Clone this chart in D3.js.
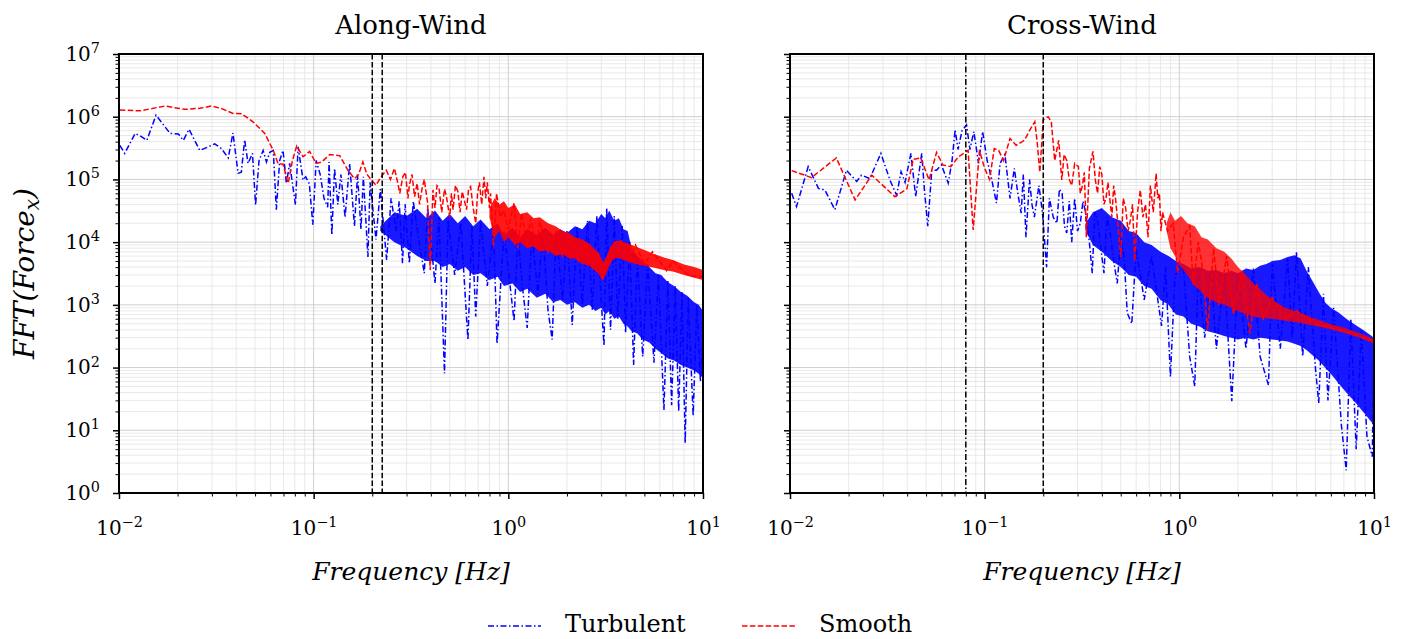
<!DOCTYPE html>
<html>
<head>
<meta charset="utf-8">
<script src="https://cdn.jsdelivr.net/npm/d3@7"></script>
<style>
body { margin: 0; background: #fff; }
text { font-family: "DejaVu Serif", serif; fill: #000; }
</style>
</head>
<body>
<svg id="chart" width="1404" height="639"></svg>
<script>
// values, [frequency Hz, amplitude]
var alongTurbulent = [
  [0.0101,3.5e5],[0.0107,2.6e5],[0.0121,5.4e5],[0.0128,5.0e5],[0.0139,4.2e5],[0.0155,1.06e6],[0.0183,5.4e5],
  [0.0202,5.3e5],[0.0214,4.2e5],[0.0229,6.3e5],[0.026,2.9e5],[0.0287,3.3e5],[0.031,3.7e5],[0.0336,3.1e5],
  [0.0364,2.2e5],[0.0385,5.5e5],[0.0409,1.25e5],[0.0425,1.3e5],[0.0442,4.3e5],[0.046,1.8e5],[0.0485,2.6e5],
  [0.0503,3.9e4],[0.0524,2.0e5],[0.055,2.9e5],[0.0572,1.9e5],[0.0595,2.7e5],[0.062,2.9e5],[0.0643,3.3e4],
  [0.0669,2.0e5],[0.0696,2.9e5],[0.0724,8.7e4],[0.0753,1.8e5],[0.0806,3.9e4],[0.0832,3.3e5],[0.0882,9.8e4],
  [0.091,1.1e5],[0.095,8.5e4],[0.099,1.9e4],[0.103,2.0e5],[0.108,1.2e5],[0.113,5e4],[0.118,3.6e4],[0.12,1.9e5],
  [0.124,1.3e4],[0.128,1.5e5],[0.133,4e4],[0.138,1.2e5],[0.145,2.5e4],[0.153,1.8e5],[0.162,1.8e4],[0.168,1.2e5],
  [0.175,1.6e4],[0.18,1.1e5],[0.19,5.8e3],[0.195,9e4],[0.209,1.1e4],[0.22,7e4],[0.237,5.2e3],[0.25,5e4],
  [0.265,1.5e4],[0.275,4.5e4],[0.286,4.6e3],[0.295,4e4],[0.31,4.6e3],[0.325,4.5e4],[0.345,1.2e4],[0.37,3.2e3],
  [0.385,3.5e4],[0.42,2.2e3],[0.44,2.5e4],[0.47,81],[0.49,2.2e4],[0.53,3e3],[0.57,2e4],[0.62,275],[0.65,1.8e4],
  [0.68,650],[0.72,2.2e4],[0.78,2e3],[0.84,1.5e4],[0.875,240],[0.95,1.5e4],[1.07,550],[1.12,1.3e4],[1.18,2e3],
  [1.25,430],[1.32,1.4e4],[1.42,1.5e3],[1.5,1.6e4],[1.6,800],[1.68,280],[1.76,1.4e4],[1.9,1.2e3],[2.0,1.5e4],
  [2.13,480],[2.25,1.8e4],[2.4,1.0e3],[2.55,2.2e4],[2.7,800],[2.85,2.6e4],[3.0,1.2e3],[3.1,220],[3.2,3.5e4],
  [3.35,400],[3.5,2.6e4],[3.65,600],[3.85,1.8e4],[4.0,360],[4.2,1.0e4],[4.4,110],[4.6,6e3],[4.9,150],[5.2,4.5e3],
  [5.6,120],[5.9,3e3],[6.3,21],[6.6,2.4e3],[6.9,25],[7.2,2e3],[7.5,20],[7.8,1.6e3],[8.1,6.2],[8.4,1.3e3],
  [8.9,17],[9.3,1.0e3],[9.7,60],[10,300]
];
// dense, solid-looking part of each spectrum, [Hz, low, high]
var alongTurbulentBand = [
  [0.22,1.5e4,1.8e4],[0.26,1.0e4,3.0e4],[0.3,8e3,2.6e4],[0.34,6e3,3.4e4],[0.38,5e3,2.4e4],[0.42,5e3,3.2e4],
  [0.46,4e3,2.2e4],[0.5,4.5e3,2.8e4],[0.55,3.5e3,2.0e4],[0.6,4e3,2.6e4],[0.66,3e3,1.8e4],[0.72,3.2e3,2.3e4],
  [0.8,2.5e3,1.6e4],[0.88,2.8e3,2.0e4],[0.95,2e3,1.3e4],[1.05,2.2e3,1.7e4],[1.15,1.6e3,1.2e4],[1.25,1.8e3,1.6e4],
  [1.4,1.3e3,1.3e4],[1.55,1.5e3,1.7e4],[1.7,1.1e3,1.3e4],[1.85,1.2e3,1.6e4],[2.0,1.0e3,1.4e4],[2.2,1.1e3,1.8e4],
  [2.4,900,1.6e4],[2.6,1.0e3,2.2e4],[2.8,800,2.0e4],[3.0,900,2.8e4],[3.15,700,2.4e4],[3.3,800,3.2e4],
  [3.5,600,2.2e4],[3.7,650,2.4e4],[3.9,500,1.6e4],[4.1,450,1.5e4],[4.3,380,8e3],[4.6,350,6e3],[4.9,280,5e3],
  [5.3,250,4e3],[5.7,200,3.2e3],[6.1,170,3e3],[6.6,140,2.3e3],[7.1,130,2.0e3],[7.7,110,1.6e3],[8.3,100,1.4e3],
  [9.0,90,1.1e3],[9.5,80,1.0e3],[10,70,800]
];
var alongSmooth = [
  [0.0101,1.28e6],[0.0128,1.24e6],[0.0172,1.48e6],[0.0218,1.31e6],[0.026,1.36e6],[0.0299,1.48e6],[0.0336,1.35e6],
  [0.0385,1.13e6],[0.0426,1.12e6],[0.0488,8.3e5],[0.0561,5.4e5],[0.062,2.9e5],[0.0656,1.8e5],[0.0696,1.75e5],
  [0.074,8.7e4],[0.0778,2.0e5],[0.0818,3.4e5],[0.0882,2.3e5],[0.0953,2.8e5],[0.103,1.8e5],[0.11,1.9e5],
  [0.121,2.5e5],[0.136,2.4e5],[0.15,1.4e5],[0.162,1.03e5],[0.17,1.2e5],[0.179,1.9e5],[0.188,1.2e5],[0.198,9.8e4],
  [0.209,8.1e4],[0.222,1.1e5],[0.236,1.4e5],[0.248,1.0e5],[0.26,1.5e5],[0.27,9e4],[0.277,6.0e4],[0.287,1.1e5],
  [0.296,1.3e5],[0.305,5e4],[0.31,8e4],[0.32,1.2e5],[0.33,5.3e4],[0.34,8.7e4],[0.35,4e4],[0.36,7e4],[0.37,1.0e5],
  [0.385,4.2e4],[0.397,3.6e3],[0.41,6.8e4],[0.42,3.5e4],[0.43,8e4],[0.44,7.5e4],[0.455,3e4],[0.47,7e4],
  [0.48,5.5e4],[0.5,2.5e4],[0.51,6e4],[0.52,3.3e4],[0.535,8e4],[0.55,6.5e4],[0.565,3e4],[0.58,6.4e4],[0.61,3.3e4],
  [0.625,7e4],[0.64,7.7e4],[0.66,3.5e4],[0.68,2.0e4],[0.695,6e4],[0.71,9e4],[0.73,4e4],[0.75,1.1e5],[0.765,5e4],
  [0.78,9e4],[0.8,3.5e4],[0.81,6e4],[0.84,8.5e3],[0.87,6e4],[0.91,2.5e4],[0.95,3.2e4],[1.0,1.6e4],[1.07,4.2e4],
  [1.12,8e3],[1.17,2.9e4],[1.25,9e3],[1.3,2.4e4],[1.4,8e3],[1.45,2.1e4],[1.6,7e3],[1.77,1.5e4],[1.9,6e3],
  [2.1,1.2e4],[2.3,5e3],[2.5,9.6e3],[2.7,4.5e3],[2.9,6.6e3],[3.05,2.6e3],[3.25,5.5e3],[3.5,1.0e4],[3.8,1.05e4],
  [4.2,5e3],[4.5,9e3],[5,4.5e3],[5.5,7e3],[6.5,3.5e3],[7,5e3],[8.5,2.9e3],[10,2.8e3]
];
var alongSmoothBand = [
  [0.8,2.5e4,3.5e4],[0.85,1.2e4,5e4],[0.9,1.5e4,4e4],[0.95,1.0e4,4.5e4],[1.0,1.2e4,3.5e4],[1.08,9e3,4e4],
  [1.15,1.0e4,2.8e4],[1.25,8e3,3e4],[1.35,8.5e3,2.4e4],[1.45,7e3,2.5e4],[1.6,7.5e3,2e4],[1.75,6e3,1.8e4],
  [1.9,6.5e3,1.5e4],[2.05,5.5e3,1.4e4],[2.2,5.5e3,1.2e4],[2.4,4.5e3,1.1e4],[2.6,4.2e3,9.5e3],[2.75,3.6e3,8e3],
  [2.9,3.2e3,6.8e3],[3.0,2.6e3,5.5e3],[3.08,2.5e3,4.8e3],[3.2,3.3e3,6e3],[3.35,4.6e3,8.5e3],[3.5,5.5e3,9.8e3],
  [3.7,5.6e3,1.05e4],[3.9,5.2e3,1.0e4],[4.2,4.8e3,9.3e3],[4.6,4.4e3,8.3e3],[5.0,4.2e3,7.5e3],[5.6,3.9e3,6.5e3],
  [6.3,3.6e3,5.7e3],[7,3.4e3,5.2e3],[8,3.0e3,4.4e3],[9,2.7e3,4.0e3],[10,2.5e3,3.6e3]
];
var crossTurbulent = [
  [0.0102,6.0e4],[0.0108,3.7e4],[0.0124,1.6e5],[0.014,7.2e4],[0.0151,6.8e4],[0.017,3.3e4],[0.0195,1.4e5],
  [0.022,9.3e4],[0.0233,1.17e5],[0.0257,1.03e5],[0.0293,2.6e5],[0.0326,9.8e4],[0.0353,5.6e4],[0.0372,1.33e5],
  [0.039,9e4],[0.0418,2.6e5],[0.0442,5.3e4],[0.0475,2.6e5],[0.049,7e4],[0.051,1.8e4],[0.0535,1.4e5],
  [0.0566,1.4e5],[0.06,1.7e5],[0.065,8.7e4],[0.068,2.0e5],[0.0705,6.2e5],[0.073,3e5],[0.0765,6e5],
  [0.0807,7.4e5],[0.084,3e5],[0.088,5.8e5],[0.093,1.8e5],[0.0976,5.8e5],[0.103,2.0e5],[0.108,1.1e5],
  [0.115,4.2e4],[0.12,1.8e5],[0.127,2.5e5],[0.135,5e4],[0.142,1.5e5],[0.148,6e4],[0.154,2.9e4],[0.158,1.2e5],
  [0.163,1.2e4],[0.17,1.0e5],[0.175,4e4],[0.18,2.5e4],[0.19,8e4],[0.198,3e4],[0.208,4e3],[0.215,5e4],
  [0.225,2.5e4],[0.235,2e4],[0.242,7e4],[0.25,6e4],[0.257,1.8e4],[0.264,1.4e4],[0.272,4.5e4],[0.28,1e4],
  [0.29,5e4],[0.3,1.5e4],[0.31,2e4],[0.32,4.5e4],[0.33,3e4],[0.345,1e4],[0.357,3.2e3],[0.368,3e4],[0.38,2.2e4],
  [0.395,8e3],[0.41,3.2e3],[0.425,2.5e4],[0.44,1.5e4],[0.46,5e3],[0.48,2.2e3],[0.5,1.2e4],[0.52,6e3],
  [0.54,740],[0.57,500],[0.6,8e3],[0.66,1.2e3],[0.72,6e3],[0.81,460],[0.85,4e3],[0.9,71],[0.95,3e3],[1.05,4e3],
  [1.13,150],[1.2,50],[1.25,3.5e3],[1.35,300],[1.45,3.5e3],[1.55,200],[1.7,3.3e3],[1.86,29],[2.0,3.2e3],
  [2.2,200],[2.4,3.8e3],[2.6,150],[2.87,52],[3.0,4.5e3],[3.3,200],[3.6,5.5e3],[3.8,300],[4.0,7e3],[4.3,150],
  [4.6,4e3],[5.0,100],[5.2,27],[5.5,1.5e3],[5.8,30],[6.2,900],[6.8,12],[7.2,2.3],[7.6,600],[8.1,5],[8.6,400],
  [9.2,8],[9.8,3.8],[10,280]
];
var crossTurbulentBand = [
  [0.33,1.5e4,2.0e4],[0.36,9e3,3.0e4],[0.4,7e3,3.5e4],[0.45,5e3,2.5e4],[0.5,4e3,2.2e4],[0.55,3e3,1.5e4],
  [0.6,2.8e3,1.4e4],[0.66,2e3,1e4],[0.72,1.8e3,9e3],[0.8,1.2e3,7e3],[0.88,1.0e3,6e3],[0.96,700,5e3],
  [1.05,650,4.5e3],[1.15,500,3.8e3],[1.27,450,4e3],[1.4,380,3.5e3],[1.55,350,3.6e3],[1.7,320,3.2e3],
  [1.85,300,3.5e3],[2.0,280,3.2e3],[2.2,300,3.8e3],[2.4,280,3.6e3],[2.6,300,4.2e3],[2.8,290,4.5e3],
  [3.0,280,5e3],[3.3,270,5.2e3],[3.6,260,5.8e3],[3.9,240,6.2e3],[4.2,220,5.5e3],[4.5,190,3.5e3],[4.8,160,2.5e3],
  [5.2,130,1.6e3],[5.6,100,1.1e3],[6.0,80,900],[6.6,55,750],[7.2,40,600],[8,28,480],[9,18,380],[10,12,300]
];
var crossSmooth = [
  [0.0102,1.38e5],[0.0129,1.07e5],[0.0173,2.2e5],[0.0216,4.7e4],[0.0263,1.17e5],[0.0346,5.3e4],[0.0398,7.0e4],
  [0.043,2.1e5],[0.047,2.2e5],[0.0518,9.8e4],[0.0566,2.7e5],[0.061,1.7e5],[0.067,1.6e5],[0.0733,2.3e5],
  [0.0822,2.9e5],[0.0873,1.56e4],[0.094,2.9e5],[0.1,1.5e5],[0.106,1.0e5],[0.112,3.1e5],[0.118,2.9e5],
  [0.125,2.0e5],[0.135,4.5e5],[0.145,3.5e5],[0.16,4.2e5],[0.171,6.2e5],[0.181,8.3e5],[0.186,4e5],[0.192,1.3e5],
  [0.2,8.9e5],[0.212,1.0e6],[0.22,8.3e5],[0.229,2.0e5],[0.24,4.2e5],[0.249,9.8e4],[0.256,2.5e5],[0.264,2.0e5],
  [0.272,1.0e5],[0.28,8e4],[0.29,1.8e5],[0.303,1.6e5],[0.31,6e4],[0.318,8e4],[0.325,1.3e5],[0.333,1.2e4],
  [0.345,1.5e5],[0.36,2.8e5],[0.37,1.0e5],[0.38,6e4],[0.39,1.6e5],[0.4,1.2e5],[0.41,4e4],[0.42,5e4],[0.43,9e4],
  [0.44,4.7e4],[0.45,2.5e4],[0.46,8e4],[0.47,5e4],[0.48,2.5e4],[0.5,5.8e3],[0.515,5e4],[0.53,3.5e4],[0.545,1.5e4],
  [0.56,2.2e4],[0.575,4e4],[0.59,5e3],[0.61,3e4],[0.63,6.8e4],[0.65,2.5e4],[0.67,4e4],[0.69,1.2e4],[0.71,8e4],
  [0.735,3e4],[0.76,1.25e5],[0.775,5e4],[0.79,6e4],[0.805,1.5e4],[0.82,3e4],[0.87,1.5e4],[0.93,2e4],[0.98,3.2e3],
  [1.05,1.2e4],[1.13,1.8e4],[1.18,2e3],[1.25,1e4],[1.3,5e3],[1.4,400],[1.5,8e3],[1.6,1e3],[1.75,6e3],[1.9,700],
  [2.1,3.5e3],[2.3,350],[2.5,2.2e3],[2.7,600],[3.0,1.3e3],[3.5,600],[4,800],[5,500],[7,380],[10,260]
];
var crossSmoothBand = [
  [0.86,1.5e4,2.0e4],[0.9,8e3,3e4],[0.95,6e3,2.2e4],[1.02,4e3,2.6e4],[1.1,3e3,2e4],[1.2,2e3,1.8e4],
  [1.3,1.6e3,1.2e4],[1.4,1.3e3,1.1e4],[1.55,1.1e3,8e3],[1.7,1.0e3,7e3],[1.85,900,5.5e3],[2.0,800,4e3],
  [2.2,700,3e3],[2.4,650,2.2e3],[2.7,620,1.6e3],[3.0,600,1.2e3],[3.5,560,900],[4.0,530,780],[5.0,460,600],
  [6.0,410,490],[7.0,360,430],[8.5,300,350],[10,240,285]
];
var alongMarkers = [0.2, 0.225];
var crossMarkers = [0.08, 0.2];
var panelTitles = ["Along-Wind", "Cross-Wind"];
var seriesNames = ["Turbulent", "Smooth"];
var xMajor = [0.01, 0.1, 1, 10];
var yMajor = [1, 10, 100, 1e3, 1e4, 1e5, 1e6, 1e7];

var top0 = 54, plotW = 584, plotH = 439;
var blue = "#0000ff", red = "#ff0000";
var dashDot = "6,2.5,1.5,2.5", dashed = "5.5,2.4";

var svg = d3.select("#chart");

var x = d3.scaleLog().domain([0.01, 10]).range([0, plotW]);
var y = d3.scaleLog().domain([1, 1e7]).range([plotH, 0]);

// minor ticks 2..9 inside each decade
var xMinor = [], yMinor = [];
xMajor.slice(0, -1).forEach(function(d) { for (var k = 2; k < 10; k++) xMinor.push(d * k); });
yMajor.slice(0, -1).forEach(function(d) { for (var k = 2; k < 10; k++) yMinor.push(d * k); });

function powerLabels(sel) {
  sel.selectAll(".tick text").each(function(d) {
    var t = d3.select(this), e = Math.round(Math.log10(d));
    t.text(null);
    t.append("tspan").text("10");
    t.append("tspan").attr("dy", "-0.55em").attr("font-size", "0.72em")
      .text(e < 0 ? "\u2212" + (-e) : e);
  });
}

var line = d3.line().x(function(d) { return x(d[0]); }).y(function(d) { return y(d[1]); });
var area = d3.area()
  .x(function(d) { return x(d[0]); })
  .y0(function(d) { return y(d[1]); })
  .y1(function(d) { return y(d[2]); });

function drawPanel(i, left, turb, turbBand, smooth, smoothBand, markers, markerDash, redAlpha) {
  var g = svg.append("g").attr("transform", "translate(" + left + "," + top0 + ")");

  g.append("clipPath").attr("id", "clip" + i)
    .append("rect").attr("width", plotW).attr("height", plotH);

  // grid
  var grid = g.append("g");
  grid.selectAll(".gxm").data(xMinor).enter().append("line")
    .attr("x1", x).attr("x2", x).attr("y1", 0).attr("y2", plotH)
    .attr("stroke", "#e3e3e3").attr("stroke-width", 0.8);
  grid.selectAll(".gym").data(yMinor).enter().append("line")
    .attr("y1", y).attr("y2", y).attr("x1", 0).attr("x2", plotW)
    .attr("stroke", "#e3e3e3").attr("stroke-width", 0.8);
  grid.selectAll(".gx").data(xMajor).enter().append("line")
    .attr("x1", x).attr("x2", x).attr("y1", 0).attr("y2", plotH)
    .attr("stroke", "#cfcfcf").attr("stroke-width", 1);
  grid.selectAll(".gy").data(yMajor).enter().append("line")
    .attr("y1", y).attr("y2", y).attr("x1", 0).attr("x2", plotW)
    .attr("stroke", "#cfcfcf").attr("stroke-width", 1);

  var plot = g.append("g").attr("clip-path", "url(#clip" + i + ")");

  plot.append("path").attr("d", area(turbBand))
    .attr("fill", blue).attr("fill-opacity", 0.9);
  plot.append("path").attr("d", line(turb))
    .attr("fill", "none").attr("stroke", blue).attr("stroke-width", 1.5)
    .attr("stroke-dasharray", dashDot);
  plot.append("path").attr("d", area(smoothBand))
    .attr("fill", red).attr("fill-opacity", redAlpha);
  plot.append("path").attr("d", line(smooth))
    .attr("fill", "none").attr("stroke", red).attr("stroke-width", 1.5)
    .attr("stroke-dasharray", dashed);

  // vertical reference lines
  plot.selectAll(".marker").data(markers).enter().append("line")
    .attr("x1", x).attr("x2", x).attr("y1", 0).attr("y2", plotH)
    .attr("stroke", "#000").attr("stroke-width", 1.5)
    .attr("stroke-dasharray", function(d, j) { return markerDash[j]; });

  // axes
  var xa = g.append("g").attr("transform", "translate(0," + plotH + ")")
    .call(d3.axisBottom(x).tickValues(xMajor).tickSize(6).tickPadding(22));
  xa.call(powerLabels);
  var xm = g.append("g").attr("transform", "translate(0," + plotH + ")")
    .call(d3.axisBottom(x).tickValues(xMinor).tickSize(3.5).tickFormat(""));
  var ya = g.append("g")
    .call(d3.axisLeft(y).tickValues(yMajor).tickSize(6).tickPadding(13));
  if (i === 0) ya.call(powerLabels); else ya.selectAll(".tick text").remove();
  var ym = g.append("g")
    .call(d3.axisLeft(y).tickValues(yMinor).tickSize(3.5).tickFormat(""));

  [xa, xm, ya, ym].forEach(function(a) {
    a.select(".domain").remove();
    a.attr("font-family", null).attr("font-size", 20);
  });
  xa.selectAll(".tick line").attr("stroke-width", 1.5);
  ya.selectAll(".tick line").attr("stroke-width", 1.5);
  xm.selectAll(".tick line").attr("stroke-width", 1);
  ym.selectAll(".tick line").attr("stroke-width", 1);

  g.append("rect").attr("width", plotW).attr("height", plotH)
    .attr("fill", "none").attr("stroke", "#000").attr("stroke-width", 2);

  g.append("text").attr("x", plotW / 2).attr("y", -20)
    .attr("text-anchor", "middle").attr("font-size", 26).text(panelTitles[i]);

  g.append("text").attr("x", plotW / 2).attr("y", plotH + 87)
    .attr("text-anchor", "middle").attr("font-size", 25).attr("font-style", "italic")
    .text("Frequency [Hz]");
}

drawPanel(0, 119, alongTurbulent, alongTurbulentBand, alongSmooth, alongSmoothBand,
  alongMarkers, [dashed, dashed], 0.9);
drawPanel(1, 790, crossTurbulent, crossTurbulentBand, crossSmooth, crossSmoothBand,
  crossMarkers, [dashDot, dashed], 0.8);

// y label
var yl = svg.append("text")
  .attr("transform", "translate(34," + (top0 + plotH / 2) + ") rotate(-90)")
  .attr("text-anchor", "middle").attr("font-size", 28).attr("font-style", "italic");
yl.append("tspan").text("FFT(Force");
yl.append("tspan").attr("font-size", 20).attr("dy", 5).text("x");
yl.append("tspan").attr("dy", -5).text(")");

// legend
var legend = svg.append("g").attr("transform", "translate(0,626)");
var legendX = [488, 742];
seriesNames.forEach(function(name, j) {
  legend.append("line").attr("x1", legendX[j]).attr("x2", legendX[j] + 53)
    .attr("stroke", j === 0 ? blue : red).attr("stroke-width", 1.5)
    .attr("stroke-dasharray", j === 0 ? dashDot : dashed);
  legend.append("text").attr("x", legendX[j] + 77).attr("y", 6)
    .attr("font-size", 24).text(name);
});
</script>
</body>
</html>
